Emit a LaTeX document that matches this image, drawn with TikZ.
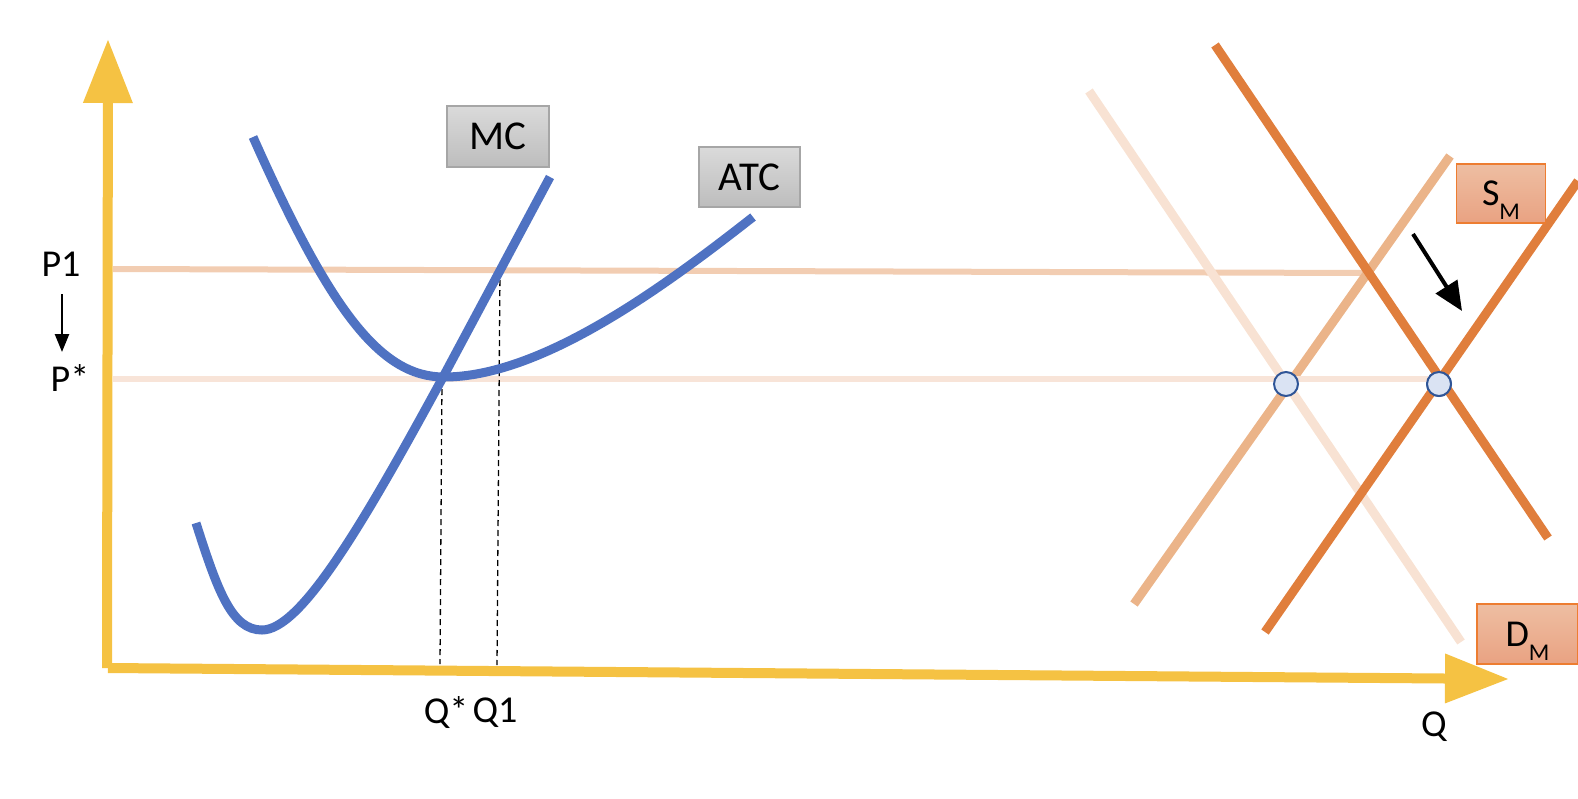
\documentclass[tikz,border=0pt]{standalone}
\usepackage{fontspec}
\setmainfont{Carlito}
\usetikzlibrary{arrows.meta}
\definecolor{axisc}{HTML}{F5C243}
\definecolor{bluec}{HTML}{4F72C2}
\definecolor{darkor}{HTML}{E07E3C}
\definecolor{lightS}{HTML}{EBB489}
\definecolor{lightD}{HTML}{F8E2D3}
\definecolor{ponec}{HTML}{F2CDB2}
\definecolor{pstarc}{HTML}{F8E4D8}
\definecolor{boxgtop}{HTML}{DADADA}
\definecolor{boxgbot}{HTML}{BDBDBD}
\definecolor{boxgline}{HTML}{A6A6A6}
\definecolor{boxotop}{HTML}{EEBEA2}
\definecolor{boxobot}{HTML}{E9A282}
\definecolor{boxoline}{HTML}{ED7D31}
\definecolor{dotfill}{HTML}{DAE3F3}
\definecolor{dotline}{HTML}{2F5597}
\tikzset{
  axisline/.style={draw=axisc, line width=10pt, -{Triangle[length=64pt,width=47pt]}},
  curve/.style={draw=bluec, line width=9pt},
  hline/.style={line width=6pt},
  sdline/.style={line width=9pt},
  dropline/.style={draw=black, line width=1.3pt, dash pattern=on 6pt off 4pt},
  lbl/.style={inner sep=0pt, font=\fontsize{38}{44}\selectfont},
  graybox/.style={draw=boxgline, line width=1.5pt, top color=boxgtop, bottom color=boxgbot,
    minimum width=102pt, minimum height=61pt, inner sep=0pt, font=\fontsize{41}{48}\selectfont},
  orangebox/.style={draw=boxoline, line width=1.5pt, top color=boxotop, bottom color=boxobot,
    minimum width=89pt, minimum height=59pt, inner sep=0pt, text depth=0pt, font=\fontsize{38}{44}\selectfont},
  dot/.style={circle, draw=dotline, fill=dotfill, line width=2pt, minimum size=24pt, inner sep=0pt},
  blackarrow/.style={draw=black, line width=2.5pt, -{Triangle[length=18pt,width=14pt]}},
  bigarrow/.style={draw=black, line width=4pt, -{Triangle[length=29pt,width=25pt]}}
}
\newcommand{\subM}{\raisebox{-14pt}{\fontsize{24}{28}\selectfont M}}
\begin{document}
\begin{tikzpicture}[x=1pt,y=-1pt]
\useasboundingbox (0,0) rectangle (1578,798);
% coordinates
\coordinate (O) at (107,668);
\coordinate (Ox) at (108,668);
\coordinate (ytip) at (108,39);
\coordinate (xtip) at (1509,679);
\coordinate (p1L) at (113,269);
\coordinate (p1R) at (1364,273);
\coordinate (psL) at (113,379);
\coordinate (qs) at (442,379);
\coordinate (q1) at (500,270);
\coordinate (qsb) at (440,664);
\coordinate (q1b) at (497,665);
% horizontal price lines
\draw[hline, draw=ponec] (p1L) -- (p1R);
% market lines
\coordinate (dA) at (1089,91);  \coordinate (dB) at (1461,642);
\coordinate (sA) at (1134,604); \coordinate (sB) at (1450,156);
\coordinate (DA) at (1215,45);  \coordinate (DB) at (1548,538);
\coordinate (SA) at (1265,632); \coordinate (SB) at (1578,181);
\draw[sdline, draw=lightD] (dA) -- (dB);
\draw[sdline, draw=lightS] (sA) -- (sB);
\node[dot] (c2) at (1439,384) {};
\draw[hline, draw=pstarc] (psL) -- (psL -| c2);
\draw[sdline, draw=darkor] (DA) -- (DB);
\draw[sdline, draw=darkor] (SA) -- (SB);
\node[dot] (c1) at (1286,384) {};
\node[dot] at (c2) {};
% axes
\draw[axisline] (O) -- (ytip);
\draw[axisline] (Ox) -- (xtip);
% drop lines
\draw[dropline] (qs) -- (qsb);
\draw[dropline] (q1) -- (q1b);
% cost curves
\draw[curve] (196,523) .. controls (218,592) and (232,630) .. (262,630)
  .. controls (300,630) and (360,530) .. (qs) -- (550,177);
\draw[curve] (253,137) .. controls (330,310) and (380,377) .. (444,377)
  .. controls (540,377) and (660,290) .. (753,217);
% boxes
\node[graybox] (mc) at (498,136.5) {MC};
\node[graybox, minimum width=101pt, minimum height=60pt] (atc) at (749.5,177) {ATC};
\node[orangebox] (sm) at (1501,193.5) {S\subM};
\node[orangebox, minimum width=101pt, minimum height=60pt] (dm) at (1527.5,634) {D\subM};
% labels
\node[lbl] (p1) at (61,264) {P1};
\node[lbl] (ps) at (70,378) {P*};
\node[lbl] (qstar) at (446,713) {Q*};
\node[lbl] (qone) at (495,713) {Q1};
\node[lbl] (q) at (1434,727) {Q};
% arrows
\coordinate (a1s) at (62,294);
\coordinate (a1e) at (62,352);
\draw[blackarrow] (a1s) -- (a1e);
\coordinate (a2s) at (1413,234);
\coordinate (a2e) at (1462,311);
\draw[bigarrow] (a2s) -- (a2e);
\end{tikzpicture}
\end{document}
